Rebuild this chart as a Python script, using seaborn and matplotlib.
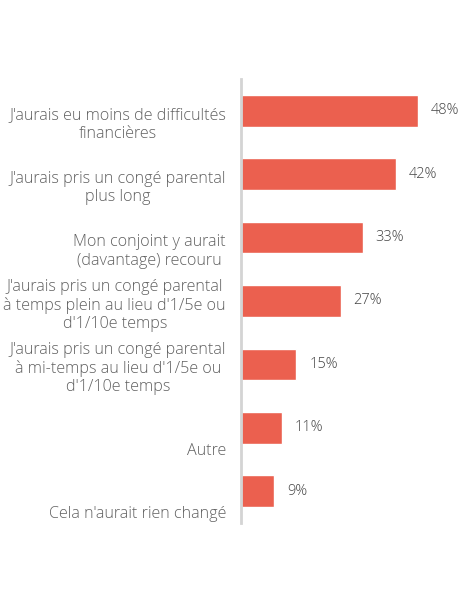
import matplotlib
matplotlib.use("Agg")
import matplotlib.pyplot as plt
import seaborn as sns
import pandas as pd

# Données
categories = [
    "J'aurais eu moins de difficultés\nfinancières",
    "J'aurais pris un congé parental\nplus long",
    "Mon conjoint y aurait\n(davantage) recouru",
    "J'aurais pris un congé parental\nà temps plein au lieu d'1/5e ou\nd'1/10e temps",
    "J'aurais pris un congé parental\nà mi-temps au lieu d'1/5e ou\nd'1/10e temps",
    "Autre",
    "Cela n'aurait rien changé",
]
valeurs = [48, 42, 33, 27, 15, 11, 9]

data = pd.DataFrame({"categorie": categories, "valeur": valeurs})

sns.set_style("white")
plt.rcParams["font.family"] = ["Open Sans", "DejaVu Sans"]

fig = plt.figure(figsize=(4.6, 6), dpi=100)
ax = fig.add_axes([241 / 460, 1 - 523 / 600, 184.5 / 460, 444 / 600])

sns.barplot(data=data, y="categorie", x="valeur", orient="h",
            color="#EB604F", saturation=1, width=0.5, ax=ax)

ax.set_xlim(0, 50)
ax.set_ylim(6.5, -0.5)
ax.set_xlabel("")
ax.set_ylabel("")
ax.set_xticks([])
ax.set_yticks([])
for s in ["top", "right", "bottom"]:
    ax.spines[s].set_visible(False)
ax.spines["left"].set_color("#D4D4D4")
ax.spines["left"].set_linewidth(2)

# Libellés des catégories (alignés par le bas)
for i, cat in enumerate(categories):
    ax.annotate(cat, xy=(0, i), xycoords=("axes fraction", "data"),
                xytext=(-15, -31), textcoords="offset pixels",
                ha="right", va="bottom", fontsize=11.6, color="#606060",
                fontweight="light", linespacing=1.18, multialignment="center")

# Valeurs
for i, v in enumerate(valeurs):
    ax.annotate(f"{v}%", xy=(v, i), xytext=(13, 0), textcoords="offset pixels",
                ha="left", va="center", fontsize=10.5, color="#444444",
                fontweight="light", annotation_clip=False)

fig.savefig("out.png", dpi=100, facecolor="white")
